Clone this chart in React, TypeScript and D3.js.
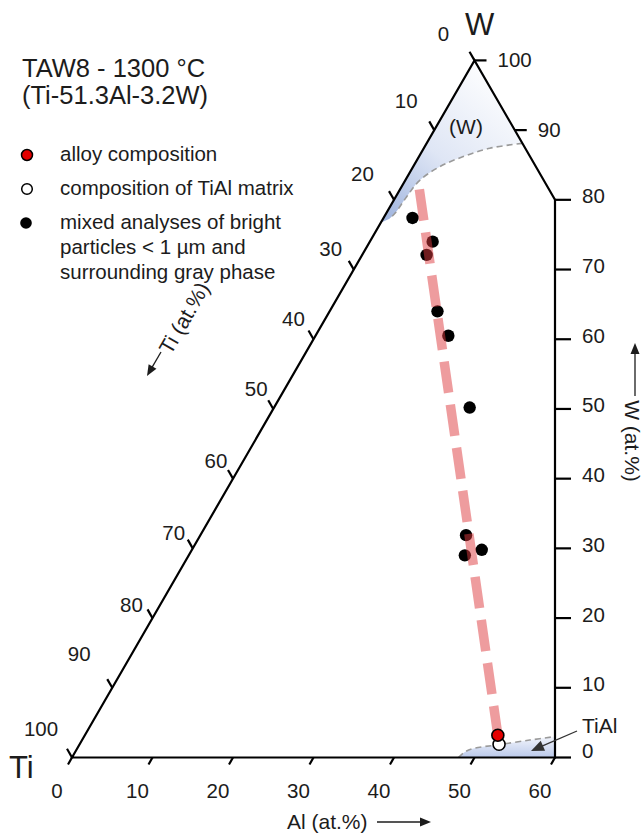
import React from 'react';
import * as d3 from 'd3';

const WIDTH = 644;
const HEIGHT = 836;
const FONT = '"Liberation Sans", Arial, Helvetica, sans-serif';
const INK = '#1c1c1c';

// Ternary layout: horizontal position follows Al + W/2, vertical follows W (at.%)
const xScale = d3.scaleLinear().domain([0, 100]).range([72, 877]);
const yScale = d3.scaleLinear().domain([0, 100]).range([757.5, 60.4]);
const pt = (al: number, w: number): [number, number] => [xScale(al + w / 2), yScale(w)];

// Measured compositions (at.%)
const particleAl = [3.6, 7.8, 8.0, 13.4, 16.5, 24.3, 33.0, 36.0, 34.3];
const particleW = [77.4, 74.0, 72.1, 64.0, 60.5, 50.2, 31.9, 29.8, 29.0];
const alloyAl = [51.3];
const alloyW = [3.2];
const matrixAl = [52.1];
const matrixW = [1.9];

// Tie line through the particle analyses
const trendAl = [2.4, 51.3];
const trendW = [81.5, 3.2];

// Phase field boundaries
const wPhaseAl = [11.9, 8.2, 5.5, 3.3, 1.8, 1.35, 1.1, 0.8];
const wPhaseW = [88.1, 87.4, 86.2, 84.75, 82.8, 80.45, 78.1, 77.3];
const tialAl = [48.0, 48.4, 49.2, 51.9, 55.6, 58.5];
const tialW = [0, 0.8, 1.3, 1.8, 2.5, 3.0];

// Axis ticks
const tiTicks = d3.range(0, 101, 10);
const alTicks = d3.range(0, 61, 10);
const wSideTicks = d3.range(0, 81, 10);
const wEdgeTicks = [90, 100];

// Hand placement of the Ti labels relative to their tick (px)
const tiLabelShift: Record<number, [number, number]> = {
  0: [-31, -27],
  10: [-28, -29.5],
  20: [-31.5, -26],
  30: [-23, -21],
  40: [-20, -21],
  50: [-17, -20],
  60: [-17, -18],
  70: [-19, -16],
  80: [-21, -14],
  90: [-33, -34],
  100: [-31, -29.5],
};

const legendItems = [
  { kind: 'alloy', lines: ['alloy composition'] },
  { kind: 'matrix', lines: ['composition of TiAl matrix'] },
  { kind: 'particle', lines: ['mixed analyses of bright', 'particles < 1 µm and', 'surrounding gray phase'] },
];

function Arrow({ x1, y1, x2, y2, color = INK, width = 1.3, head = 11, half = 4.5 }: any) {
  const dx = x2 - x1;
  const dy = y2 - y1;
  const len = Math.hypot(dx, dy);
  const ux = dx / len;
  const uy = dy / len;
  const bx = x2 - ux * head;
  const by = y2 - uy * head;
  const p = `${x2},${y2} ${bx - uy * half},${by + ux * half} ${bx + uy * half},${by - ux * half}`;
  return (
    <g>
      <line x1={x1} y1={y1} x2={bx + ux * 1} y2={by + uy * 1} stroke={color} strokeWidth={width} />
      <polygon points={p} fill={color} />
    </g>
  );
}

export default function App() {
  const line = d3.line<[number, number]>().curve(d3.curveCatmullRom.alpha(0.5));

  const wBoundary = wPhaseAl.map((a, i) => pt(a, wPhaseW[i]));
  const wLast = wPhaseW[wPhaseW.length - 1];
  const wRegion =
    'M' + pt(0, 100).join(',') +
    'L' + wBoundary[0].join(',') +
    (line(wBoundary) as string).replace(/^M[^CL]*/, '') +
    'L' + pt(0, wLast - 0.6).join(',') + 'Z';

  const tBoundary = tialAl.map((a, i) => pt(a, tialW[i]));
  const tRegion = (line(tBoundary) as string) + 'L' + pt(60, 0).join(',') + 'Z';

  const apex = pt(0, 100);
  const tiCorner = pt(0, 0);
  const alCorner = pt(60, 0);
  const topRight = pt(20, 80);

  const trendA = pt(trendAl[0], trendW[0]);
  const trendB = pt(trendAl[1], trendW[1]);

  return (
    <svg
      width={WIDTH}
      height={HEIGHT}
      viewBox={`0 0 ${WIDTH} ${HEIGHT}`}
      style={{ position: 'absolute', left: 0, top: 0, background: '#fff' }}
      fontFamily={FONT}
    >
      <defs>
        <linearGradient id="wGrad" gradientUnits="userSpaceOnUse" x1={505} y1={75} x2={385} y2={222}>
          <stop offset="0" stopColor="#ffffff" />
          <stop offset="0.55" stopColor="#dfe6f5" />
          <stop offset="1" stopColor="#9fb4de" />
        </linearGradient>
        <linearGradient id="tGrad" gradientUnits="userSpaceOnUse" x1={0} y1={736} x2={0} y2={758}>
          <stop offset="0" stopColor="#f4f6fc" />
          <stop offset="1" stopColor="#b9c8ea" />
        </linearGradient>
      </defs>
      <rect width={WIDTH} height={HEIGHT} fill="#fff" />

      {/* phase fields */}
      <path d={wRegion} fill="url(#wGrad)" />
      <path d={tRegion} fill="url(#tGrad)" />
      <path d={line(wBoundary) as string} fill="none" stroke="#9a9a9a" strokeWidth={1.6} strokeDasharray="6 4" />
      <path d={line(tBoundary) as string} fill="none" stroke="#9a9a9a" strokeWidth={1.6} strokeDasharray="6 4" />

      {/* frame */}
      <g stroke="#000" strokeWidth={2.2} fill="none" strokeLinejoin="miter">
        <path d={`M${tiCorner.join(',')}L${apex.join(',')}L${topRight.join(',')}L${alCorner.join(',')}Z`} />
      </g>

      {/* ticks */}
      <g stroke="#000" strokeWidth={2.2}>
        {tiTicks.map((t) => {
          const [x, y] = pt(0, 100 - t);
          return <line key={'ti' + t} x1={x} y1={y} x2={x - 5} y2={y - 8.7} />;
        })}
        {alTicks.map((a) => {
          const [x, y] = pt(a, 0);
          return <line key={'al' + a} x1={x} y1={y} x2={x - 4} y2={y + 7} />;
        })}
        {wSideTicks.map((w) => {
          const [x, y] = pt(60 - w / 2, w);
          return <line key={'ws' + w} x1={x} y1={y} x2={x + 16} y2={y} />;
        })}
        {wEdgeTicks.map((w) => {
          const [x, y] = pt(100 - w, w);
          return <line key={'we' + w} x1={x} y1={y} x2={x + 12} y2={y} />;
        })}
      </g>

      {/* tick labels */}
      <g fill={INK} fontSize={20.5}>
        {tiTicks.map((t) => {
          const [x, y] = pt(0, 100 - t);
          const [dx, dy] = tiLabelShift[t];
          return (
            <text key={'tl' + t} x={x + dx} y={y + dy + 7.5} textAnchor="middle">
              {t}
            </text>
          );
        })}
        {alTicks.map((a) => {
          const [x] = pt(a, 0);
          return (
            <text key={'all' + a} x={x - 15} y={797.5} textAnchor="middle">
              {a}
            </text>
          );
        })}
        {wSideTicks.map((w) => {
          const [x, y] = pt(60 - w / 2, w);
          return (
            <text key={'wsl' + w} x={x + 27} y={y - (w === 0 ? 7 : 4) + 7.5}>
              {w}
            </text>
          );
        })}
        {wEdgeTicks.map((w) => {
          const [x, y] = pt(100 - w, w);
          return (
            <text key={'wel' + w} x={x + 23} y={y - 1 + 7.5}>
              {w}
            </text>
          );
        })}
      </g>

      {/* corner labels */}
      <text x={465} y={35} fontSize={31} fill={INK}>W</text>
      <text x={9} y={778} fontSize={31} fill={INK}>Ti</text>

      {/* axis titles */}
      <text x={287} y={829} fontSize={21} fill={INK}>Al (at.%)</text>
      <Arrow x1={377} y1={822} x2={431} y2={822} />
      <g transform="translate(632,441) rotate(90)">
        <text x={0} y={0} fontSize={21} fill={INK} textAnchor="middle" dominantBaseline="central">W (at.%)</text>
      </g>
      <Arrow x1={635} y1={396} x2={635} y2={343} />
      <g transform="translate(184,318) rotate(-60)">
        <text x={0} y={0} fontSize={21} fill={INK} textAnchor="middle" dominantBaseline="central">Ti (at.%)</text>
      </g>
      <Arrow x1={161} y1={352} x2={147} y2={376} />

      {/* phase labels */}
      <text x={466} y={134} fontSize={21} fill={INK} textAnchor="middle">(W)</text>
      <text x={582} y={733} fontSize={21} fill={INK}>TiAl</text>
      <Arrow x1={577} y1={731} x2={531} y2={751} color="#333" width={1.3} head={13} half={5.5} />

      {/* particle analyses */}
      <g fill="#000">
        {particleAl.map((a, i) => {
          const [x, y] = pt(a, particleW[i]);
          return <circle key={'p' + i} cx={x} cy={y} r={6.2} />;
        })}
      </g>

      {/* tie line */}
      <line
        x1={trendA[0]}
        y1={trendA[1]}
        x2={trendB[0]}
        y2={trendB[1]}
        stroke="#dd3a3e"
        strokeOpacity={0.5}
        strokeWidth={9.5}
        strokeDasharray="31.5 12"
      />

      {/* alloy and matrix */}
      {matrixAl.map((a, i) => {
        const [x, y] = pt(a, matrixW[i]);
        return <circle key={'m' + i} cx={x} cy={y} r={6} fill="#fff" stroke="#000" strokeWidth={1.6} />;
      })}
      {alloyAl.map((a, i) => {
        const [x, y] = pt(a, alloyW[i]);
        return <circle key={'a' + i} cx={x} cy={y} r={6} fill="#e30000" stroke="#000" strokeWidth={1.6} />;
      })}

      {/* title */}
      <text x={22} y={77} fontSize={25.5} fill={INK}>TAW8 - 1300 °C</text>
      <text x={22} y={104} fontSize={25.5} fill={INK}>(Ti-51.3Al-3.2W)</text>

      {/* legend */}
      <g fontSize={20.5} fill={INK}>
        <circle cx={27} cy={155} r={5.5} fill="#e30000" stroke="#000" strokeWidth={1.5} />
        <circle cx={27} cy={189} r={5.3} fill="#fff" stroke="#000" strokeWidth={1.5} />
        <circle cx={26} cy={223} r={5.8} fill="#000" />
        {legendItems.map((item, i) => {
          const base = [161, 195, 229][i];
          return item.lines.map((s, j) => (
            <text key={item.kind + j} x={60} y={base + j * 24.8}>
              {s}
            </text>
          ));
        })}
      </g>
    </svg>
  );
}
